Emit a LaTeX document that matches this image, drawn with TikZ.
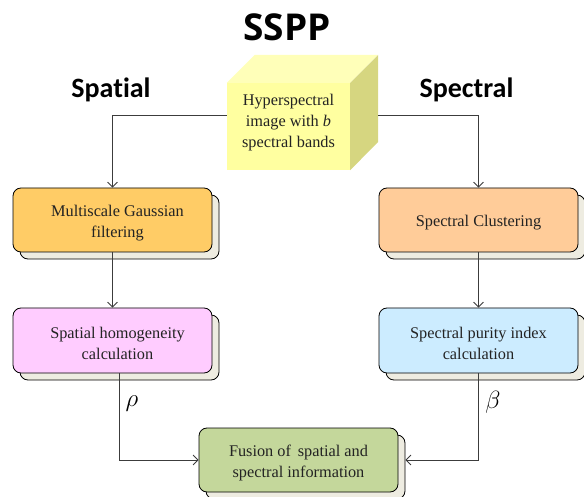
\documentclass[tikz,border=0pt]{standalone}
\usepackage{fontspec}
\setmainfont{Liberation Serif}
\newfontfamily\headfont[Ligatures=NoCommon]{Carlito}
\newfontfamily\titlefont{Open Sans}
\usetikzlibrary{arrows.meta,calc,shadows}
\definecolor{cOrange}{RGB}{255,204,102}
\definecolor{cPeach}{RGB}{255,204,153}
\definecolor{cPink}{RGB}{255,204,255}
\definecolor{cBlue}{RGB}{204,236,255}
\definecolor{cGreen}{RGB}{196,215,155}
\definecolor{cShadow}{RGB}{238,236,225}
\definecolor{cFront}{RGB}{255,255,160}
\definecolor{cTop}{RGB}{255,255,185}
\definecolor{cSide}{RGB}{214,214,128}
\definecolor{cLine}{RGB}{60,60,60}
\definecolor{cText}{RGB}{35,35,35}
\newcommand{\dn}{\rule{0pt}{17.5pt}}
\begin{document}
\begin{tikzpicture}[x=1pt,y=-1pt,
  procbox/.style={draw=black, line width=0.8pt, rounded corners=8pt,
    minimum width=199pt, minimum height=64pt, align=center, inner sep=0pt,
    font=\fontsize{16.3}{21}\selectfont, text=cText,
    general shadow={shadow xshift=7pt, shadow yshift=-7pt, fill=cShadow, draw=black, line width=0.8pt}},
  conn/.style={draw=cLine, line width=0.8pt},
  arr/.style={conn, -{Straight Barb[length=5pt,width=10pt]}},
  head/.style={font=\headfont\bfseries\fontsize{28}{28}\selectfont, text=black},
  greek/.style={font=\fontsize{23}{23}\selectfont, text=black}
]
\useasboundingbox (0,0) rectangle (584,497);

% title and headings
\node (title) at (287,27) {\titlefont\bfseries\fontsize{37}{37}\selectfont SSPP};
\node[head, anchor=base] (spatial) at (111,98) {Spatial};
\node[head, anchor=base] (spectral) at (466.5,98) {Spectral};

% cube
\node[fill=cFront, minimum width=123pt, minimum height=87pt, inner sep=0pt,
      align=center, font=\fontsize{16.3}{21}\selectfont, text=cText]
      (cube) at (288.5,126.5) {Hyperspectral\\image with \textit{b}\\spectral bands\rule[-12pt]{0pt}{0pt}};
\fill[cTop] (cube.north west) -- ++(28,-28) -- ++(123,0) -- (cube.north east) -- cycle;
\fill[cSide] (cube.north east) -- ++(28,-28) -- ++(0,87) -- (cube.south east) -- cycle;
\coordinate (cubeL) at ($(cube.west)+(0,-11.5)$);
\coordinate (cubeR) at ($(cube.east)+(28,-11.5)$);

% boxes
\node[procbox, fill=cOrange] (f1) at (112.5,220) {\hspace*{10pt}\dn Multiscale Gaussian\\\hspace*{10pt}filtering};
\node[procbox, fill=cPink, minimum height=65pt] (f2) at (112.5,340.5) {\hspace*{10pt}\dn Spatial homogeneity\\\hspace*{10pt}calculation};
\node[procbox, fill=cPeach] (s1) at (478.5,220) {\dn Spectral Clustering};
\node[procbox, fill=cBlue, minimum height=65pt] (s2) at (478.5,340.5) {\dn Spectral purity index\\calculation};
\node[procbox, fill=cGreen] (fu) at (298.5,460) {\dn Fusion of\, spatial and\\spectral information};

% connectors
\draw[arr] (cubeL) -| (f1.north);
\draw[arr] (cubeR) -| (s1.north);
\draw[arr] (f1.south) -- (f2.north);
\draw[arr] (s1.south) -- (s2.north);
\coordinate (f2out) at ($(f2.south)+(6.5,0)$);
\coordinate (s2out) at ($(s2.south)+(-0.5,0)$);
\coordinate (fuR) at ($(fu.east)+(7,0)$);
\draw[arr] (f2out) |- (fu.west);
\draw[arr] (s2out) |- (fuR);

% labels
\node[greek] (rho) at (132,404) {$\rho$};
\node[greek] (beta) at (493,402) {$\beta$};
\end{tikzpicture}
\end{document}
